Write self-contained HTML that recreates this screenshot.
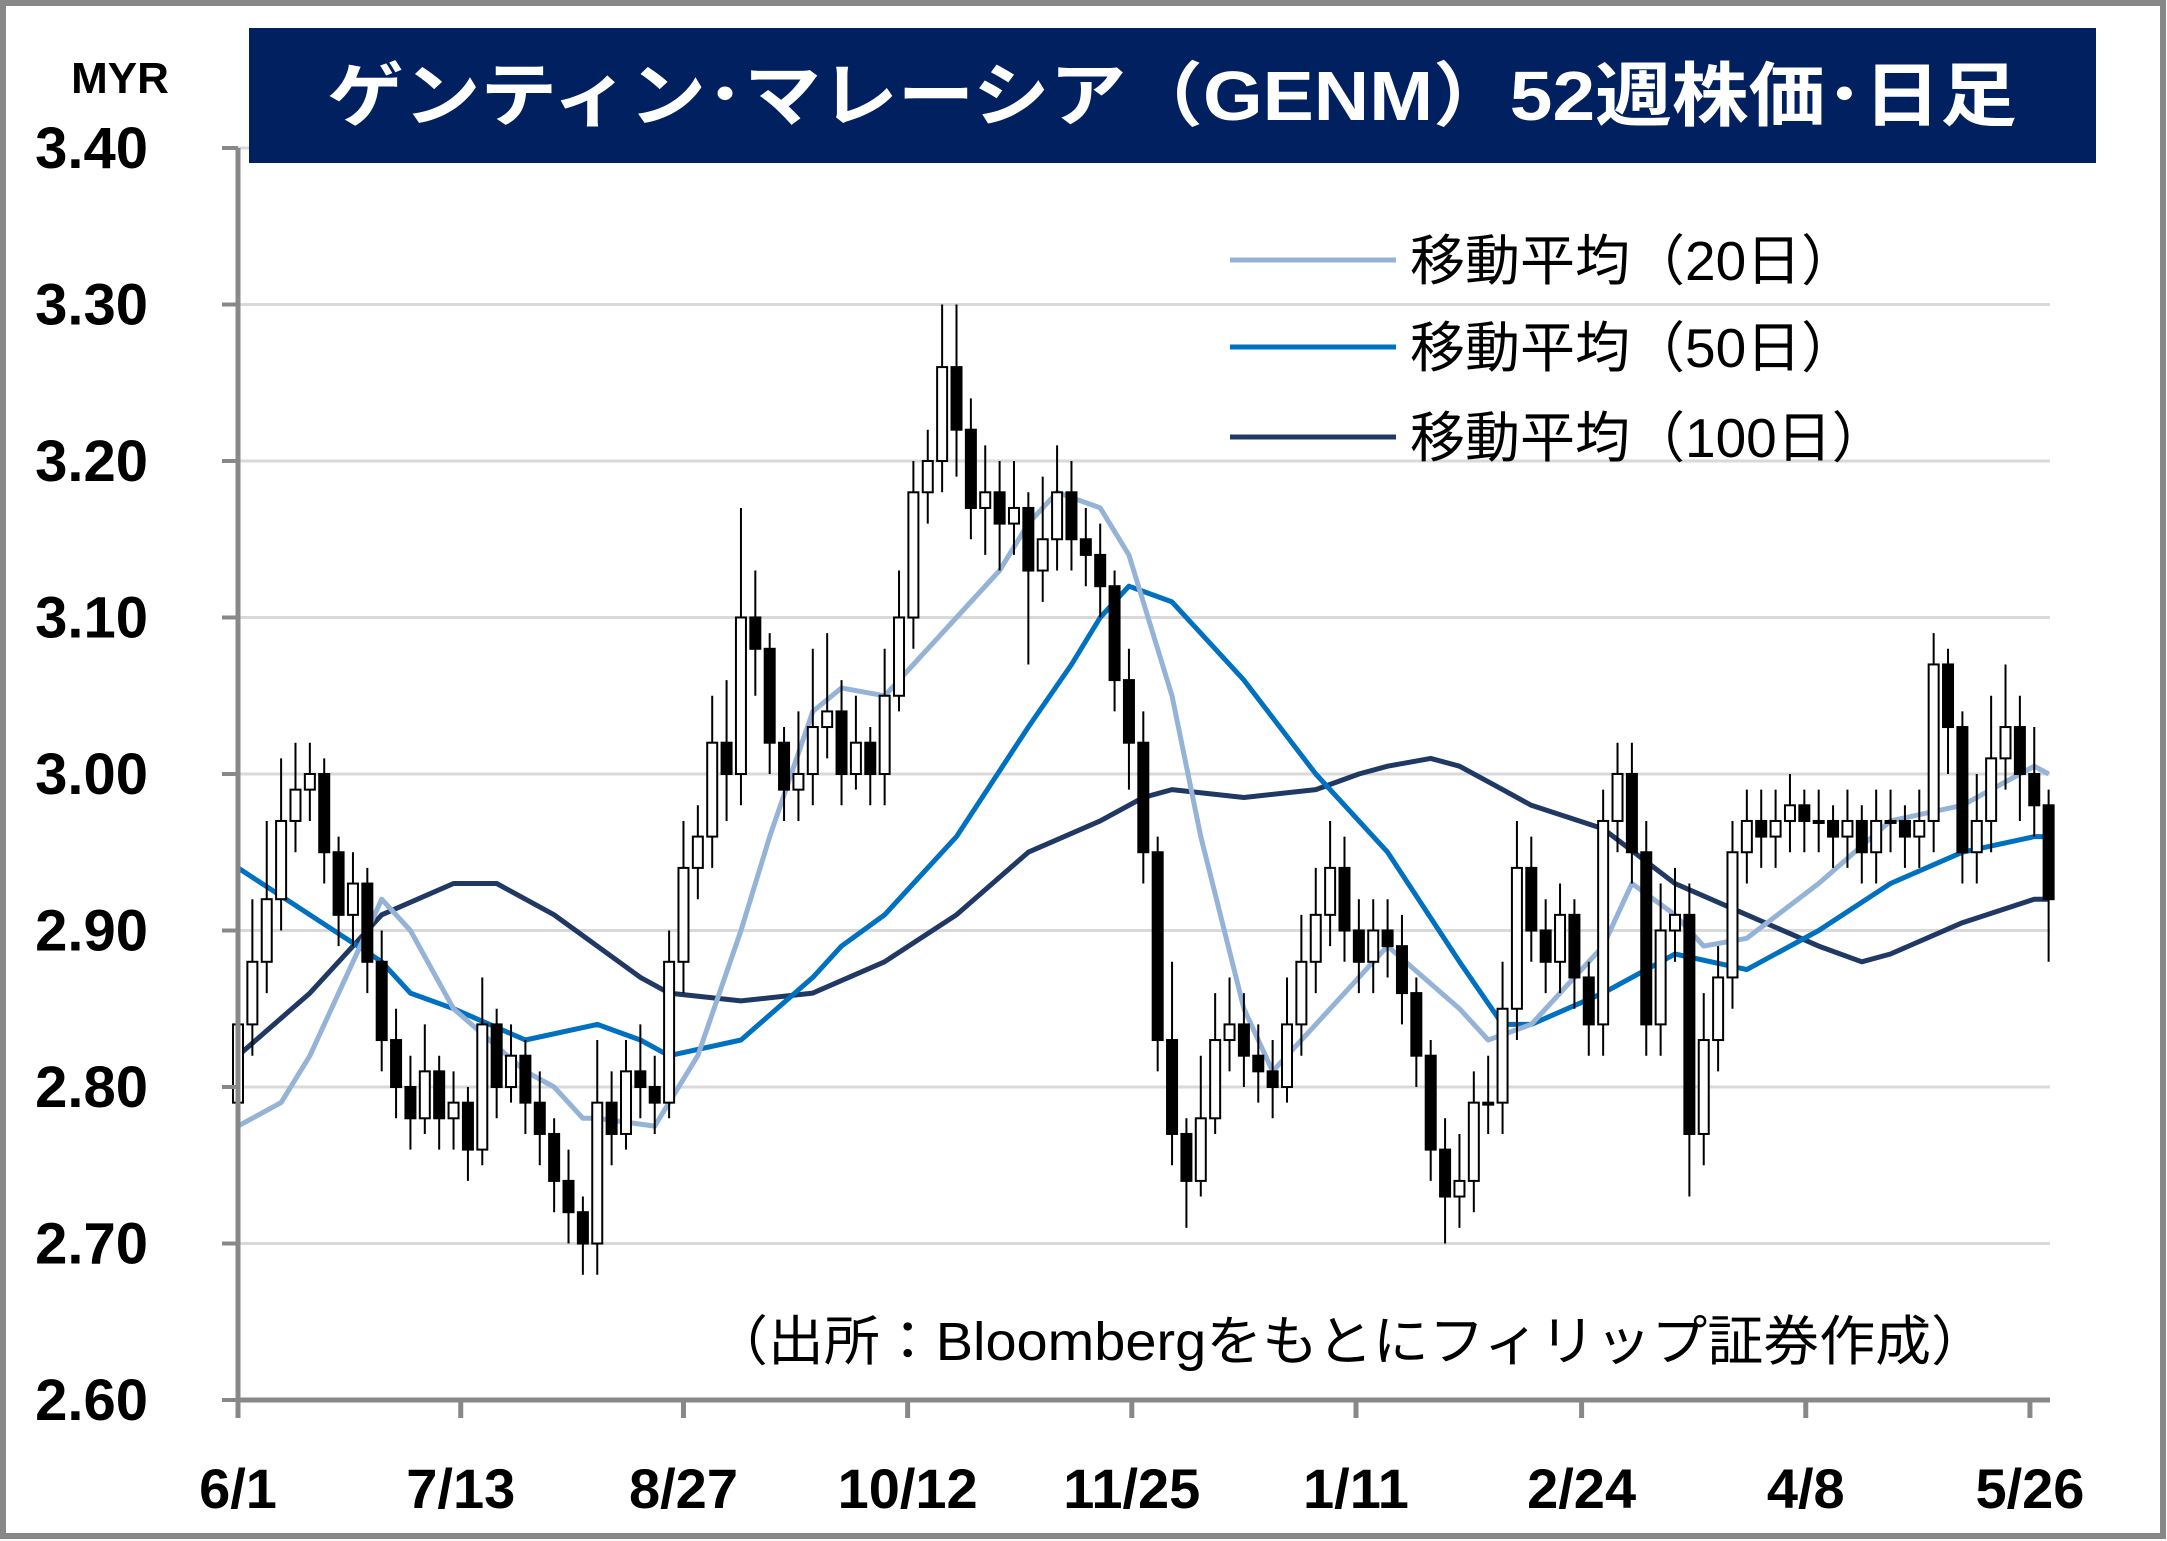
<!DOCTYPE html>
<html><head><meta charset="utf-8"><style>
html,body{margin:0;padding:0;background:#fff}
svg{display:block}
text{font-family:"Liberation Sans Narrow","Liberation Sans","Noto Sans CJK JP",sans-serif}
.jp{font-family:"Liberation Sans","Noto Sans CJK JP",sans-serif}
</style></head><body>
<svg id="chart" width="2167" height="1541" viewBox="0 0 2167 1541">
<rect x="3" y="3" width="2160" height="1533" fill="#fff" stroke="#888" stroke-width="6"/>
<g id="grid"></g>
<g id="ma"></g>
<g id="candles"></g>
<g id="axes"></g>
<rect x="249" y="28" width="1847" height="135" fill="#002060"/>
<text x="1172" y="120" text-anchor="middle" class="jp" font-size="70" font-weight="bold" fill="#fff" textLength="1690" lengthAdjust="spacingAndGlyphs">ゲンティン･マレーシア（GENM）52週株価･日足</text>
<text x="120" y="93" text-anchor="middle" font-size="44" font-weight="bold">MYR</text>
<g>
<line x1="1230" y1="260" x2="1396" y2="260" stroke="#95b3d7" stroke-width="5"/>
<text x="1410" y="280" class="jp" font-size="55">移動平均（20日）</text>
<line x1="1230" y1="347" x2="1396" y2="347" stroke="#0070c0" stroke-width="5"/>
<text x="1410" y="367" class="jp" font-size="55">移動平均（50日）</text>
<line x1="1230" y1="437" x2="1396" y2="437" stroke="#1f3864" stroke-width="5"/>
<text x="1410" y="457" class="jp" font-size="55">移動平均（100日）</text>
</g>
<text x="712" y="1360" class="jp" font-size="54" textLength="1275" lengthAdjust="spacingAndGlyphs">（出所：Bloombergをもとにフィリップ証券作成）</text>
</svg>
<script>
const yTicks=[2.60,2.70,2.80,2.90,3.00,3.10,3.20,3.30,3.40];
const yTickLabels=["2.60","2.70","2.80","2.90","3.00","3.10","3.20","3.30","3.40"];
const xTickIdx=[0,15.5,31,46.6,62.2,77.8,93.5,109.1,124.7];
const xTickLabels=["6/1","7/13","8/27","10/12","11/25","1/11","2/24","4/8","5/26"];
const close=[2.84,2.88,2.92,2.97,2.99,3.00,2.95,2.91,2.93,2.88,2.83,2.80,2.78,2.81,2.78,2.79,2.76,2.84,2.80,2.82,2.79,2.77,2.74,2.72,2.70,2.79,2.77,2.81,2.80,2.79,2.88,2.94,2.96,3.02,3.00,3.10,3.08,3.02,2.99,3.00,3.03,3.04,3.00,3.02,3.00,3.05,3.10,3.18,3.20,3.26,3.22,3.17,3.18,3.16,3.17,3.13,3.15,3.18,3.15,3.14,3.12,3.06,3.02,2.95,2.83,2.77,2.74,2.78,2.83,2.84,2.82,2.81,2.80,2.84,2.88,2.91,2.94,2.90,2.88,2.90,2.89,2.86,2.82,2.76,2.73,2.74,2.79,2.79,2.85,2.94,2.90,2.88,2.91,2.87,2.84,2.97,3.00,2.95,2.84,2.90,2.91,2.77,2.83,2.87,2.95,2.97,2.96,2.97,2.98,2.97,2.97,2.96,2.97,2.95,2.97,2.97,2.96,2.97,3.07,3.03,2.95,2.97,3.01,3.03,3.00,2.98,2.92];
const open=[2.79,2.84,2.88,2.92,2.97,2.99,3.00,2.95,2.91,2.93,2.88,2.83,2.80,2.78,2.81,2.78,2.79,2.76,2.84,2.80,2.82,2.79,2.77,2.74,2.72,2.70,2.79,2.77,2.81,2.80,2.79,2.88,2.94,2.96,3.02,3.00,3.10,3.08,3.02,2.99,3.00,3.03,3.04,3.00,3.02,3.00,3.05,3.10,3.18,3.20,3.26,3.22,3.17,3.18,3.16,3.17,3.13,3.15,3.18,3.15,3.14,3.12,3.06,3.02,2.95,2.83,2.77,2.74,2.78,2.83,2.84,2.82,2.81,2.80,2.84,2.88,2.91,2.94,2.90,2.88,2.90,2.89,2.86,2.82,2.76,2.73,2.74,2.79,2.79,2.85,2.94,2.90,2.88,2.91,2.87,2.84,2.97,3.00,2.95,2.84,2.90,2.91,2.77,2.83,2.87,2.95,2.97,2.96,2.97,2.98,2.97,2.97,2.96,2.97,2.95,2.97,2.97,2.96,2.97,3.07,3.03,2.95,2.97,3.01,3.03,3.00,2.98];
const high=[2.90,2.92,2.97,3.01,3.02,3.02,3.01,2.96,2.95,2.94,2.90,2.85,2.82,2.84,2.82,2.81,2.80,2.87,2.85,2.84,2.83,2.81,2.78,2.76,2.73,2.83,2.81,2.83,2.84,2.82,2.90,2.97,2.98,3.05,3.06,3.17,3.13,3.09,3.03,3.04,3.08,3.09,3.06,3.05,3.03,3.08,3.13,3.20,3.22,3.30,3.30,3.24,3.21,3.20,3.20,3.18,3.19,3.21,3.20,3.17,3.16,3.13,3.08,3.04,2.96,2.88,2.78,2.82,2.86,2.87,2.86,2.84,2.83,2.87,2.91,2.94,2.97,2.96,2.92,2.92,2.92,2.91,2.87,2.83,2.78,2.77,2.81,2.82,2.88,2.97,2.96,2.92,2.93,2.92,2.88,2.99,3.02,3.02,2.97,2.93,2.94,2.93,2.86,2.89,2.97,2.99,2.99,2.99,3.00,2.99,2.99,2.98,2.99,2.98,2.99,2.99,2.98,2.99,3.09,3.08,3.04,3.00,3.05,3.07,3.05,3.03,2.99];
const low=[2.77,2.82,2.86,2.90,2.95,2.97,2.93,2.89,2.89,2.86,2.81,2.78,2.76,2.77,2.76,2.76,2.74,2.75,2.78,2.79,2.77,2.75,2.72,2.70,2.68,2.68,2.75,2.76,2.78,2.77,2.78,2.86,2.92,2.94,2.97,2.98,3.05,3.00,2.97,2.97,2.98,3.01,2.98,2.99,2.98,2.98,3.04,3.08,3.16,3.18,3.19,3.15,3.14,3.13,3.14,3.07,3.11,3.13,3.13,3.12,3.10,3.04,2.99,2.93,2.81,2.75,2.71,2.73,2.77,2.81,2.80,2.79,2.78,2.79,2.82,2.86,2.89,2.88,2.86,2.86,2.87,2.84,2.80,2.74,2.70,2.71,2.72,2.77,2.77,2.83,2.88,2.86,2.86,2.85,2.82,2.82,2.95,2.93,2.82,2.82,2.88,2.73,2.75,2.81,2.85,2.93,2.94,2.94,2.95,2.95,2.95,2.94,2.94,2.93,2.93,2.95,2.94,2.94,2.95,3.00,2.93,2.93,2.95,2.99,2.97,2.96,2.88];
const ma20Idx=[0,3,5,7,8,10,12,15,20,22,24,25,29,30,32,35,37,40,42,45,47,50,53,55,57,60,62,65,67,70,72,75,80,85,87,90,95,97,100,102,105,110,115,120,125,126];
const ma20=[2.775,2.79,2.82,2.86,2.88,2.92,2.90,2.85,2.81,2.80,2.78,2.78,2.775,2.79,2.82,2.90,2.96,3.04,3.055,3.05,3.07,3.10,3.13,3.16,3.18,3.17,3.14,3.05,2.96,2.85,2.81,2.84,2.89,2.85,2.83,2.84,2.89,2.93,2.91,2.89,2.895,2.93,2.97,2.98,3.005,3.00];
const ma50Idx=[0,5,10,12,15,20,25,28,30,35,40,42,45,50,55,58,60,62,65,70,75,78,80,85,88,90,95,100,105,110,115,120,125,126];
const ma50=[2.94,2.91,2.88,2.86,2.85,2.83,2.84,2.83,2.82,2.83,2.87,2.89,2.91,2.96,3.03,3.07,3.10,3.12,3.11,3.06,3.00,2.97,2.95,2.88,2.84,2.84,2.86,2.885,2.875,2.90,2.93,2.95,2.96,2.96];
const ma100Idx=[0,5,10,15,18,22,25,28,30,35,40,45,50,55,60,63,65,70,75,78,80,83,85,88,90,95,100,105,110,113,115,120,125,126];
const ma100=[2.82,2.86,2.91,2.93,2.93,2.91,2.89,2.87,2.86,2.855,2.86,2.88,2.91,2.95,2.97,2.985,2.99,2.985,2.99,3.00,3.005,3.01,3.005,2.99,2.98,2.965,2.93,2.91,2.89,2.88,2.885,2.905,2.92,2.92];

const NS="http://www.w3.org/2000/svg";
const X0=238,DX=14.37,Y0=148,YPX=1565,PLOT_R=2050,PLOT_B=1400;
function xs(i){return X0+DX*i;}
function ys(p){return Y0+(3.40-p)*YPX;}
function mk(tag,attrs,parent){const e=document.createElementNS(NS,tag);for(const k in attrs)e.setAttribute(k,attrs[k]);parent.appendChild(e);return e;}
const grid=document.getElementById('grid'),axes=document.getElementById('axes'),cg=document.getElementById('candles'),mg=document.getElementById('ma');
yTicks.forEach((v,k)=>{
  if(v>2.605){const g=mk('line',{x1:X0,x2:PLOT_R,y1:ys(v),y2:ys(v),stroke:'#d9d9d9','stroke-width':3},grid);
  
  }
  const t=mk('line',{x1:X0-16,x2:X0,y1:ys(v),y2:ys(v),stroke:'#888','stroke-width':4},axes);
  
  
  const l=mk('text',{x:148,y:ys(v)+20,'text-anchor':'end','font-size':58,'font-weight':'bold'},axes);
  l.textContent=yTickLabels[k];
  
  
});
const ya=mk('line',{x1:X0,x2:X0,y1:ys(3.40),y2:PLOT_B+2,stroke:'#888','stroke-width':5},axes);


const xa=mk('line',{x1:X0-2,x2:PLOT_R,y1:PLOT_B,y2:PLOT_B,stroke:'#888','stroke-width':5},axes);


xTickIdx.forEach((i,k)=>{
  const t=mk('line',{x1:xs(i),x2:xs(i),y1:PLOT_B,y2:PLOT_B+18,stroke:'#888','stroke-width':5},axes);
  
  
  const l=mk('text',{x:xs(i),y:1508,'text-anchor':'middle','font-size':56,'font-weight':'bold'},axes);
  l.textContent=xTickLabels[k];
  
  
});
function maLine(idx,vals,color,name){
  const n=Math.min(idx.length,vals.length);let d='';
  for(let j=0;j<n;j++)d+=(j?'L':'M')+xs(idx[j]).toFixed(1)+' '+ys(vals[j]).toFixed(1);
  const p=mk('path',{d:d,fill:'none',stroke:color,'stroke-width':5,'stroke-linejoin':'round'},mg);
  
  
}
maLine(ma100Idx,ma100,'#1f3864','ma100-line');
maLine(ma50Idx,ma50,'#0070c0','ma50-line');
maLine(ma20Idx,ma20,'#95b3d7','ma20-line');
const n=Math.min(open.length,close.length,high.length,low.length);
for(let i=0;i<n;i++){
  const x=xs(i),o=open[i],c=close[i];
  const w=mk('line',{x1:x,x2:x,y1:ys(high[i]),y2:ys(low[i]),stroke:'#000','stroke-width':2},cg);
  
  
  const top=ys(Math.max(o,c)),bot=ys(Math.min(o,c));
  const b=mk('rect',{x:x-5,y:top,width:10,height:Math.max(2,bot-top),fill:c<o?'#000':'#fff',stroke:'#000','stroke-width':2},cg);
  
  
}
</script>
</body></html>
